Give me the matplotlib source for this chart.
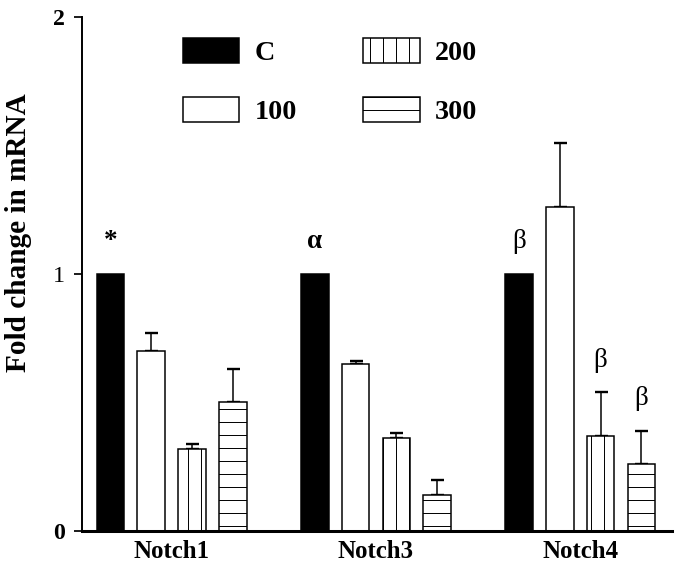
import numpy as np
import matplotlib
matplotlib.use("Agg")
import matplotlib.pyplot as plt

# data
genes = ["Notch1", "Notch3", "Notch4"]
doses = ["C", "100", "200", "300"]
ctrl = [1.0, 1.0, 1.0]
mean_100 = [0.70, 0.65, 1.26]
err_100 = [0.07, 0.01, 0.25]
mean_200 = [0.32, 0.36, 0.37]
err_200 = [0.02, 0.02, 0.17]
mean_300 = [0.50, 0.14, 0.26]
err_300 = [0.13, 0.06, 0.13]

# significance marks: (gene index, dose index, symbol)
marks = [(0, 0, "*"), (1, 0, "\u03b1"), (2, 0, "\u03b2"), (2, 2, "\u03b2"), (2, 3, "\u03b2")]

DPI = 78
plt.rcParams["font.family"] = ["Liberation Serif", "DejaVu Serif"]
plt.rcParams["hatch.linewidth"] = 0.9
plt.rcParams["hatch.color"] = "black"

fig = plt.figure(figsize=(683 / DPI, 572 / DPI), dpi=DPI)
ax = fig.add_axes([0.120, 0.0717, 0.864, 0.8986])

means = [ctrl, mean_100, mean_200, mean_300]
errs = [[0, 0, 0], err_100, err_200, err_300]
fills = ["black", "white", "white", "white"]
hatches = [None, None, "|", "-"]

gx = np.arange(len(genes)) * 5.0
offs = np.array([-1.5, -0.5, 0.5, 1.5])
w = 0.68

for k in range(4):
    xs = gx + offs[k]
    ax.bar(xs, means[k], w, color=fills[k], edgecolor="black", linewidth=1.4,
           hatch=hatches[k], label=doses[k], zorder=2)
    if k > 0:
        ax.errorbar(xs, means[k], yerr=[np.zeros(3), errs[k]], fmt="none",
                    ecolor="black", elinewidth=1.4, capsize=6, capthick=2.2, zorder=1)

for gi, di, sym in marks:
    y = means[di][gi] + errs[di][gi] + 0.125
    ax.text(gx[gi] + offs[di], y, sym, ha="center", va="center",
            fontsize=25, fontweight="bold" if sym != "\u03b2" else "normal")

ax.set_xlim(-2.2, 12.25)
ax.set_ylim(0, 2)
ax.set_xticks(gx)
ax.set_xticklabels(genes, fontsize=23, fontweight="bold")
ax.set_yticks([0, 1, 2])
ax.set_yticklabels(["0", "1", "2"], fontsize=22, fontweight="bold")
ax.get_yticklabels()[1].set_fontweight("normal")
ax.tick_params(axis="x", length=0, pad=8)
ax.tick_params(axis="y", length=7, width=1.6, pad=9, direction="out")
ax.set_ylabel("Fold change in mRNA", fontsize=27, fontweight="bold")
ax.yaxis.set_label_coords(-0.085, 0.58)

for s in ["top", "right"]:
    ax.spines[s].set_visible(False)
ax.spines["left"].set_linewidth(1.8)
ax.spines["bottom"].set_linewidth(2.8)

ax.legend(loc="upper left", bbox_to_anchor=(0.171, 0.96), ncol=2, frameon=False,
          prop={"size": 26, "weight": "bold"}, handlelength=2.0, handleheight=1.0,
          labelspacing=1.1, handletextpad=0.55, columnspacing=2.35,
          borderpad=0, borderaxespad=0)

fig.savefig("out.png", dpi=DPI)
